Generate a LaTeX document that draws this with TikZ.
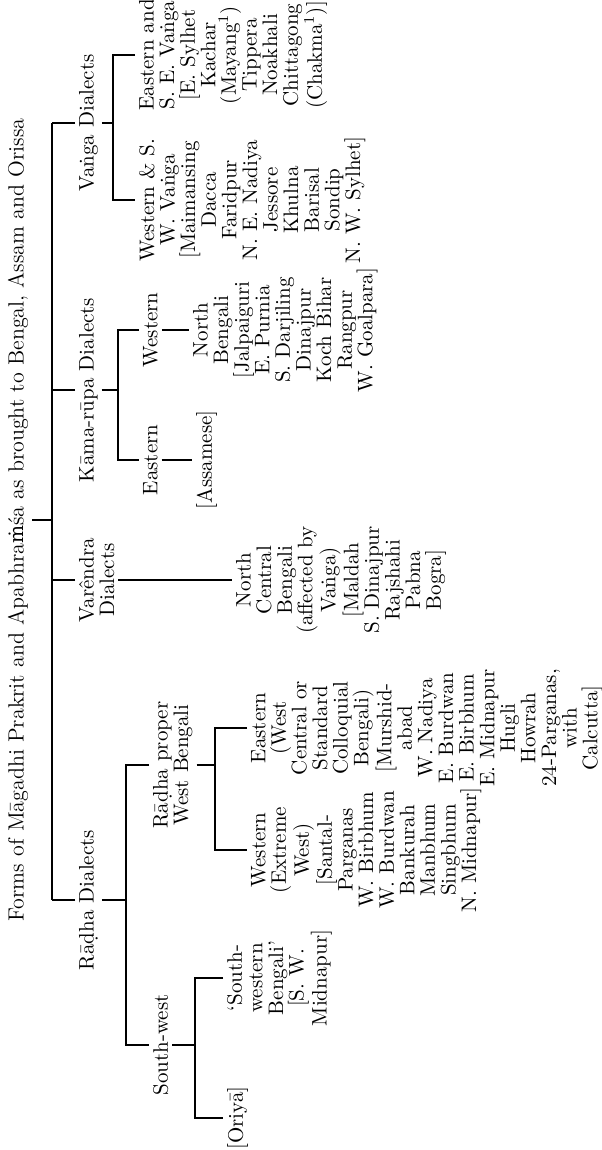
\documentclass[tikz,border=0pt]{standalone}
\usepackage{fontspec}
\newfontfamily\dvserif{DejaVu Serif}

\tikzset{
	dial/.style={align=center, inner sep=0pt, outer sep=2pt, anchor=north, font=\fontsize{10.5}{10.3}\selectfont},
	heading/.style={dial, font=\fontsize{11}{11}\selectfont},
}

\begin{document}
\begin{tikzpicture}[rotate=90, transform shape, x=0.5pt, y=0.5pt, line width=0.6pt]
	\useasboundingbox (0,0) rectangle (1150,-601);
	\node[heading] (title) at (630,-4) {Forms of Māgadhi Prakrit and Apabhra{\dvserif\fontsize{9.5}{9.5}\selectfont ṁ}śa as brought to Bengal, Assam and Orissa};

	\node[dial] (vanga) at (1027,-75) {Vaṅga Dialects};
	\node[dial] (kama) at (760,-75) {Kāma-rūpa Dialects};
	\node[dial] (varendra) at (570,-75) {Varêndra\\Dialects};
	\node[dial] (radha) at (250,-75) {Rāḍha Dialects};

	\node[dial] (veast) at (1095,-135) {Eastern and\\S. E. Vaṅga\\{[}E. Sylhet\\Kachar\\(Mayang\textsuperscript{1})\\Tippera\\Noakhali\\Chittagong\\(Chakma\textsuperscript{1})]};
	\node[dial] (vwest) at (950,-135) {Western \& S.\\W. Vaṅga\\{[}Maimansing\\Dacca\\Faridpur\\N. E. Nadiya\\Jessore\\Khulna\\Barisal\\Sondip\\N. W. Sylhet]};

	\node[dial] (kwest) at (820,-139) {Western};
	\node[dial] (keast) at (690,-139) {Eastern};
	\node[dial] (knorth) at (820,-189) {North\\Bengali\\{[}Jalpaiguri\\E. Purnia\\S. Darjiling\\Dinajpur\\Koch Bihar\\Rangpur\\W. Goalpara]};
	\node[dial] (kassam) at (690,-192) {{[}Assamese]};

	\node[dial] (vcent) at (570,-232) {North\\Central\\Bengali\\(affected by\\Vaṅga)\\{[}Maldah\\S. Dinajpur\\Rajshahi\\Pabna\\Bogra]};

	\node[dial] (rproper) at (385,-149) {Rāḍha proper\\West Bengali};
	\node[dial] (rsw) at (105,-149) {South-west};
	\node[dial] (reast) at (422,-247) {Eastern\\(West\\Central or\\Standard\\Colloquial\\Bengali)\\{[}Murshid-\\abad\\W. Nadiya\\E. Burdwan\\E. Birbhum\\E. Midnapur\\Hugli\\Howrah\\24-Parganas,\\with\\Calcutta]};
	\node[dial] (rwest) at (300,-247) {Western\\(Extreme\\West)\\{[}Santal-\\Parganas\\W. Birbhum\\W. Burdwan\\Bankurah\\Manbhum\\Singbhum\\N. Midnapur]};
	\node[dial] (swbeng) at (172,-223) {‘South-\\western\\Bengali’\\{[}S. W.\\Midnapur]};
	\node[dial] (oriya) at (32,-223) {{[}Oriyā]};

	% bars of the tree
	\coordinate (lvl1) at (0,-52);
	\coordinate (vbar) at (0,-113);
	\coordinate (kbar) at (0,-118);
	\coordinate (rbar) at (0,-126);
	\coordinate (swbar) at (0,-195);
	\coordinate (rpbar) at (0,-215);

	\draw (title) -- (title |- lvl1);
	\draw (vanga |- lvl1) -- (radha |- lvl1);
	\foreach \n in {vanga,kama,varendra,radha}
		\draw (\n) -- (\n |- lvl1);

	\draw (vanga) -- (vanga |- vbar);
	\draw (veast) -- (veast |- vbar) -- (vwest |- vbar) -- (vwest);

	\draw (kama) -- (kama |- kbar);
	\draw (kwest) -- (kwest |- kbar) -- (keast |- kbar) -- (keast);
	\draw (kwest) -- (knorth);
	\draw (keast) -- (kassam);

	\draw (varendra) -- (vcent);

	\draw (radha) -- (radha |- rbar);
	\draw (rproper) -- (rproper |- rbar) -- (rsw |- rbar) -- (rsw);
	\draw (rproper) -- (rproper |- rpbar);
	\draw (reast) -- (reast |- rpbar) -- (rwest |- rpbar) -- (rwest);
	\draw (rsw) -- (rsw |- swbar);
	\draw (swbeng) -- (swbeng |- swbar) -- (oriya |- swbar) -- (oriya);
\end{tikzpicture}
\end{document}
